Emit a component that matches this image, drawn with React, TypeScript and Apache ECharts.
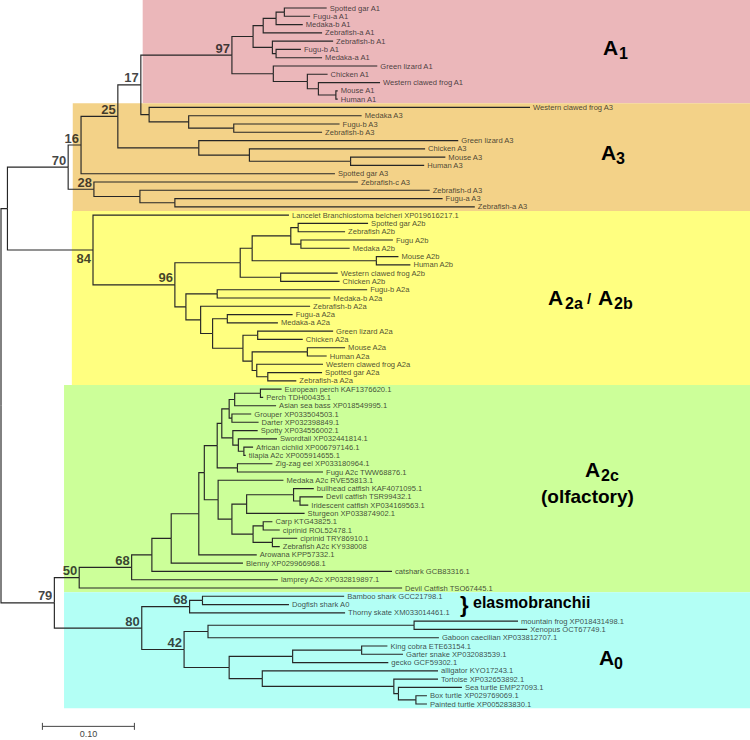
import React, { useEffect, useRef } from 'react';
import * as echarts from 'echarts';

type Row = [string, string, number];

// Tree: [node, parent, distance from root]; internal nodes start with "#".
// Leaves are listed top to bottom.
const BACKBONE: Row[] = [
  ['#root', '', 0],
  ['#a', '#root', 0.007],
  ['#79', '#root', 0.058],
  ['#70', '#a', 0.073],
  ['#84', '#a', 0.1],
  ['#16', '#70', 0.087],
  ['#28', '#70', 0.101],
  ['#25', '#16', 0.127],
  ['#17', '#25', 0.152],
  ['#97', '#17', 0.251],
  ['#50', '#79', 0.085],
  ['#80', '#79', 0.153],
];

const CLADE_A1: Row[] = [
  ['#a1f', '#97', 0.274],
  ['#a1f1', '#a1f', 0.285],
  ['#a1f2', '#a1f1', 0.299],
  ['#a1f3', '#a1f2', 0.308],
  ['Spotted gar A1', '#a1f3', 0.354],
  ['Fugu-a A1', '#a1f3', 0.336],
  ['Medaka-b A1', '#a1f2', 0.328],
  ['Zebrafish-a A1', '#a1f1', 0.349],
  ['#a1f4', '#a1f', 0.295],
  ['Zebrafish-b A1', '#a1f4', 0.361],
  ['#a1f5', '#a1f4', 0.299],
  ['Fugu-b A1', '#a1f5', 0.326],
  ['Medaka-a A1', '#a1f5', 0.349],
  ['#a1t', '#97', 0.296],
  ['Green lizard A1', '#a1t', 0.409],
  ['#a1t1', '#a1t', 0.333],
  ['Chicken A1', '#a1t1', 0.355],
  ['#a1t2', '#a1t1', 0.345],
  ['Western clawed frog A1', '#a1t2', 0.412],
  ['#a1t3', '#a1t2', 0.364],
  ['Mouse A1', '#a1t3', 0.366],
  ['Human A1', '#a1t3', 0.366],
];

const CLADE_A3: Row[] = [
  ['#a3a', '#17', 0.161],
  ['Western clawed frog A3', '#a3a', 0.575],
  ['#a3b', '#a3a', 0.204],
  ['Medaka A3', '#a3b', 0.392],
  ['#a3c', '#a3b', 0.253],
  ['Fugu-b A3', '#a3c', 0.368],
  ['Zebrafish-b A3', '#a3c', 0.349],
  ['#a3d', '#25', 0.215],
  ['Green lizard A3', '#a3d', 0.497],
  ['#a3e', '#a3d', 0.27],
  ['Chicken A3', '#a3e', 0.461],
  ['#a3f', '#a3e', 0.38],
  ['Mouse A3', '#a3f', 0.483],
  ['Human A3', '#a3f', 0.46],
  ['Spotted gar A3', '#16', 0.363],
  ['Zebrafish-c A3', '#28', 0.388],
  ['#a3g', '#28', 0.151],
  ['Zebrafish-d A3', '#a3g', 0.466],
  ['#a3h', '#a3g', 0.189],
  ['Fugu-a A3', '#a3h', 0.48],
  ['Zebrafish-a A3', '#a3h', 0.515],
];

const CLADE_A2: Row[] = [
  ['Lancelet Branchiostoma belcheri XP019616217.1', '#84', 0.313],
  ['#96', '#84', 0.189],
  ['#a2a', '#96', 0.26],
  ['#a2b', '#a2a', 0.273],
  ['#a2c', '#a2b', 0.315],
  ['#a2d', '#a2c', 0.323],
  ['Spotted gar A2b', '#a2d', 0.399],
  ['Zebrafish A2b', '#a2d', 0.374],
  ['#a2e', '#a2c', 0.326],
  ['Fugu A2b', '#a2e', 0.426],
  ['Medaka A2b', '#a2e', 0.379],
  ['#a2f', '#a2b', 0.408],
  ['Mouse A2b', '#a2f', 0.432],
  ['Human A2b', '#a2f', 0.445],
  ['#a2g', '#a2a', 0.304],
  ['Western clawed frog A2b', '#a2g', 0.366],
  ['Chicken A2b', '#a2g', 0.368],
  ['#a2h', '#96', 0.201],
  ['#a2i', '#a2h', 0.235],
  ['Fugu-b A2a', '#a2i', 0.398],
  ['Medaka-b A2a', '#a2i', 0.358],
  ['#a2j', '#a2h', 0.217],
  ['Zebrafish-b A2a', '#a2j', 0.336],
  ['#a2k', '#a2j', 0.23],
  ['#a2l', '#a2k', 0.246],
  ['Fugu-a A2a', '#a2l', 0.317],
  ['Medaka-a A2a', '#a2l', 0.301],
  ['#a2m', '#a2k', 0.263],
  ['#a2n', '#a2m', 0.279],
  ['Green lizard A2a', '#a2n', 0.361],
  ['Chicken A2a', '#a2n', 0.328],
  ['#a2o', '#a2m', 0.273],
  ['#a2p', '#a2o', 0.333],
  ['Mouse A2a', '#a2p', 0.374],
  ['Human A2a', '#a2p', 0.354],
  ['#a2q', '#a2o', 0.278],
  ['Western clawed frog A2a', '#a2q', 0.35],
  ['#a2r', '#a2q', 0.29],
  ['Spotted gar A2a', '#a2r', 0.349],
  ['Zebrafish-a A2a', '#a2r', 0.321],
];

const CLADE_A2C: Row[] = [
  ['#68c', '#50', 0.142],
  ['#c1', '#68c', 0.164],
  ['#c2', '#c1', 0.185],
  ['#c3', '#c2', 0.215],
  ['#c4', '#c3', 0.221],
  ['#c5', '#c4', 0.235],
  ['#c6', '#c5', 0.24],
  ['#c7', '#c6', 0.248],
  ['#c8', '#c7', 0.254],
  ['#c9', '#c8', 0.282],
  ['European perch KAF1376620.1', '#c9', 0.305],
  ['Perch TDH00435.1', '#c9', 0.285],
  ['Asian sea bass XP018549995.1', '#c8', 0.299],
  ['#c10', '#c7', 0.251],
  ['Grouper XP033504503.1', '#c10', 0.272],
  ['Darter XP032398849.1', '#c10', 0.28],
  ['#c11', '#c6', 0.252],
  ['Spotty XP034556002.1', '#c11', 0.279],
  ['#c12', '#c11', 0.258],
  ['Swordtail XP032441814.1', '#c12', 0.3],
  ['#c13', '#c12', 0.264],
  ['African cichlid XP006797146.1', '#c13', 0.274],
  ['tilapia A2c XP005914655.1', '#c13', 0.266],
  ['#c14', '#c5', 0.257],
  ['Zig-zag eel XP033180964.1', '#c14', 0.295],
  ['Fugu A2c TWW68876.1', '#c14', 0.35],
  ['#c15', '#c4', 0.236],
  ['Medaka A2c RVE55813.1', '#c15', 0.307],
  ['#c16', '#c15', 0.251],
  ['#c17', '#c16', 0.267],
  ['#c18', '#c17', 0.318],
  ['bullhead catfish KAF4071095.1', '#c18', 0.34],
  ['#c19', '#c18', 0.325],
  ['Devil catfish TSR99432.1', '#c19', 0.35],
  ['Iridescent catfish XP034169563.1', '#c19', 0.334],
  ['Sturgeon XP033874902.1', '#c17', 0.33],
  ['#c20', '#c16', 0.274],
  ['#c21', '#c20', 0.285],
  ['Carp KTG43825.1', '#c21', 0.295],
  ['ciprinid ROL52478.1', '#c21', 0.303],
  ['#c22', '#c20', 0.295],
  ['ciprinid TRY86910.1', '#c22', 0.322],
  ['Zebrafish A2c KY938008', '#c22', 0.303],
  ['Arowana KPP57332.1', '#c3', 0.278],
  ['Blenny XP029966968.1', '#c2', 0.263],
  ['catshark GCB83316.1', '#c1', 0.425],
  ['lamprey A2c XP032819897.1', '#68c', 0.301],
  ['Devil Catfish TSO67445.1', '#50', 0.436],
];

const CLADE_A0: Row[] = [
  ['#68e', '#80', 0.205],
  ['#e1', '#68e', 0.219],
  ['Bamboo shark GCC21798.1', '#e1', 0.373],
  ['Dogfish shark A0', '#e1', 0.313],
  ['Thorny skate XM033014461.1', '#68e', 0.374],
  ['#42', '#80', 0.199],
  ['#e2', '#42', 0.225],
  ['#e3', '#e2', 0.449],
  ['mountain frog XP018431498.1', '#e3', 0.562],
  ['Xenopus OCT67749.1', '#e3', 0.572],
  ['Gaboon caecilian XP033812707.1', '#e2', 0.476],
  ['#e4', '#42', 0.248],
  ['#e5', '#e4', 0.317],
  ['#e6', '#e5', 0.392],
  ['King cobra ETE63154.1', '#e6', 0.42],
  ['Garter snake XP032083539.1', '#e6', 0.437],
  ['gecko GCF59302.1', '#e5', 0.421],
  ['#e7', '#e4', 0.284],
  ['alligator KYO17243.1', '#e7', 0.475],
  ['#e8', '#e7', 0.427],
  ['Tortoise XP032653892.1', '#e8', 0.475],
  ['#e9', '#e8', 0.432],
  ['Sea turtle EMP27093.1', '#e9', 0.501],
  ['#e10', '#e9', 0.451],
  ['Box turtle XP029769069.1', '#e10', 0.463],
  ['Painted turtle XP005283830.1', '#e10', 0.463],
];

// Bootstrap support values: [node, value]
const SUPPORT: [string, number][] = [
  ['#97', 97], ['#17', 17], ['#25', 25], ['#16', 16], ['#70', 70], ['#28', 28],
  ['#84', 84], ['#96', 96], ['#68c', 68], ['#50', 50], ['#79', 79], ['#80', 80],
  ['#68e', 68], ['#42', 42],
];
const SUPPORT_BELOW = ['#84'];

const SCALE_BAR = 0.1;

// ---------- layout ----------
const W = 750;
const H = 740;
const PX_PER_UNIT = 920;
const ROW_PX = 696 / 84;
const FIRST_ROW_PX = 8;
const GRID_LEFT = 1;
const X_MAX = (W - GRID_LEFT) / PX_PER_UNIT;
const Y_MIN = -FIRST_ROW_PX / ROW_PX;
const Y_MAX = (H - FIRST_ROW_PX) / ROW_PX;
const FONT = 'Liberation Sans, Arial, Helvetica, sans-serif';
const SCALE_BAR_X = 0.045;
const SCALE_BAR_ROW = 86.7;

const BOXES = [
  { rows: CLADE_A1, left: 0.154, color: '#EBB7BA', toTop: true },
  { rows: CLADE_A3, left: 0.078, color: '#F3D288', toTop: false },
  { rows: CLADE_A2, left: 0.077, color: '#FFFF80', toTop: false },
  { rows: CLADE_A2C, left: 0.0685, color: '#CCFF99', toTop: false },
  { rows: CLADE_A0, left: 0.0685, color: '#B3FFF5', toTop: false },
];

type Node = { id: string; parent: string; x: number; y: number; children: string[] };

function buildTree() {
  const all: Row[] = [...BACKBONE, ...CLADE_A1, ...CLADE_A3, ...CLADE_A2, ...CLADE_A2C, ...CLADE_A0];
  const nodes = new Map<string, Node>();
  for (const [id, parent, x] of all) nodes.set(id, { id, parent, x, y: NaN, children: [] });
  for (const n of nodes.values()) if (n.parent) nodes.get(n.parent)!.children.push(n.id);
  let row = 0;
  for (const [id] of all) if (!id.startsWith('#')) nodes.get(id)!.y = row++;
  const yOf = (id: string): number => {
    const n = nodes.get(id)!;
    if (!isNaN(n.y)) return n.y;
    const ys = n.children.map(yOf);
    n.y = (Math.min(...ys) + Math.max(...ys)) / 2;
    return n.y;
  };
  for (const id of nodes.keys()) yOf(id);
  return nodes;
}

function cladeText(x: number, y: number, text: string, size: number, extra: any = {}) {
  return {
    type: 'text',
    x,
    y,
    z: 100,
    silent: true,
    style: {
      text,
      fill: '#000',
      fontSize: size,
      fontWeight: 'bold',
      fontFamily: FONT,
      verticalAlign: 'middle',
      align: 'left',
      ...extra,
    },
  };
}

function cladeLabel(x: number, y: number, sub: string, subDx = 16) {
  return [cladeText(x, y, 'A', 21), cladeText(x + subDx, y + 6, sub, 16)];
}

export default function App() {
  const ref = useRef<HTMLDivElement>(null);

  useEffect(() => {
    if (!ref.current) return;
    document.body.style.margin = '0';
    const chart = echarts.init(ref.current, null, { renderer: 'svg' });
    const nodes = buildTree();

    const edges: number[][] = [];
    for (const n of nodes.values()) {
      if (!n.parent) continue;
      const p = nodes.get(n.parent)!;
      edges.push([p.x, p.y, n.x, n.y]);
    }

    const leaves: any[] = [];
    for (const n of nodes.values()) {
      if (!n.id.startsWith('#')) leaves.push({ name: n.id, value: [n.x, n.y] });
    }

    const support = SUPPORT.map(([id, v]) => {
      const n = nodes.get(id)!;
      const below = SUPPORT_BELOW.includes(id);
      return { name: String(v), value: [n.x, n.y], label: { offset: [0, below ? 9 : -7] } };
    });

    const boxes = BOXES.map((b, i) => {
      const ys = b.rows.filter((r) => !r[0].startsWith('#')).map((r) => nodes.get(r[0])!.y);
      const top = b.toTop ? Y_MIN : Math.min(...ys) - 0.5;
      const bottom = Math.max(...ys) + 0.5;
      return [b.left, top, X_MAX, bottom, i];
    });

    const option: any = {
      animation: false,
      backgroundColor: '#ffffff',
      grid: { left: GRID_LEFT, right: 0, top: 0, bottom: 0, containLabel: false },
      xAxis: { type: 'value', min: 0, max: X_MAX, show: false },
      yAxis: { type: 'value', inverse: true, min: Y_MIN, max: Y_MAX, show: false },
      tooltip: { show: false },
      series: [
        {
          type: 'custom',
          name: 'clades',
          silent: true,
          z: 0,
          encode: { x: [0, 2], y: [1, 3] },
          data: boxes,
          renderItem: (_p: any, api: any) => {
            const tl = api.coord([api.value(0), api.value(1)]);
            const br = api.coord([api.value(2), api.value(3)]);
            return {
              type: 'rect',
              shape: { x: tl[0], y: tl[1], width: br[0] - tl[0], height: br[1] - tl[1] },
              style: { fill: BOXES[api.value(4)].color },
            };
          },
        },
        {
          type: 'custom',
          name: 'branches',
          silent: true,
          z: 2,
          encode: { x: [0, 2], y: [1, 3] },
          data: edges,
          renderItem: (_p: any, api: any) => {
            const p0 = api.coord([api.value(0), api.value(1)]);
            const p1 = api.coord([api.value(0), api.value(3)]);
            const p2 = api.coord([api.value(2), api.value(3)]);
            return {
              type: 'polyline',
              shape: { points: [p0, p1, p2] },
              style: { stroke: '#262626', lineWidth: 1.15, fill: null },
            };
          },
        },
        {
          type: 'scatter',
          name: 'leaves',
          silent: true,
          z: 3,
          symbolSize: 0,
          itemStyle: { color: '#222' },
          data: leaves,
          label: {
            show: true,
            position: 'right',
            distance: 3,
            formatter: '{b}',
            color: '#1a1a1a',
            textBorderWidth: 0,
            fontSize: 7.6,
            fontFamily: FONT,
          },
        },
        {
          type: 'scatter',
          name: 'support',
          silent: true,
          z: 3,
          symbolSize: 0,
          itemStyle: { color: '#111' },
          data: support,
          label: {
            show: true,
            position: 'left',
            distance: 2,
            formatter: '{b}',
            color: '#111',
            textBorderWidth: 0,
            fontSize: 13,
            fontWeight: 'bold',
            fontFamily: FONT,
          },
        },
        {
          type: 'custom',
          name: 'scale',
          silent: true,
          z: 3,
          encode: { x: [0, 2], y: 1 },
          data: [[SCALE_BAR_X, SCALE_BAR_ROW, SCALE_BAR_X + SCALE_BAR]],
          renderItem: (_p: any, api: any) => {
            const a = api.coord([api.value(0), api.value(1)]);
            const b = api.coord([api.value(2), api.value(1)]);
            const st = { stroke: '#444', lineWidth: 1 };
            return {
              type: 'group',
              children: [
                { type: 'line', shape: { x1: a[0], y1: a[1], x2: b[0], y2: b[1] }, style: st },
                { type: 'line', shape: { x1: a[0], y1: a[1] - 3.5, x2: a[0], y2: a[1] + 3.5 }, style: st },
                { type: 'line', shape: { x1: b[0], y1: b[1] - 3.5, x2: b[0], y2: b[1] + 3.5 }, style: st },
                {
                  type: 'text',
                  x: (a[0] + b[0]) / 2,
                  y: a[1] + 8,
                  style: {
                    text: SCALE_BAR.toFixed(2),
                    fill: '#444',
                    fontSize: 9,
                    fontFamily: FONT,
                    align: 'center',
                    verticalAlign: 'middle',
                  },
                },
              ],
            };
          },
        },
      ],
      graphic: [
        ...cladeLabel(603, 47, '1'),
        ...cladeLabel(601, 152, '3', 15),
        cladeText(548, 297, 'A', 21),
        cladeText(565, 303, '2a', 16),
        cladeText(587, 298, '/', 15),
        cladeText(598, 297, 'A', 21),
        cladeText(614, 303, '2b', 16),
        ...cladeLabel(585, 469, '2c'),
        cladeText(541, 496, '(olfactory)', 19),
        ...cladeLabel(599, 657, '0', 15),
        cladeText(460, 604, '}', 22),
        cladeText(473, 602, 'elasmobranchii', 16),
      ],
    };

    chart.setOption(option);
    return () => chart.dispose();
  }, []);

  return <div ref={ref} style={{ width: W, height: H }} />;
}
